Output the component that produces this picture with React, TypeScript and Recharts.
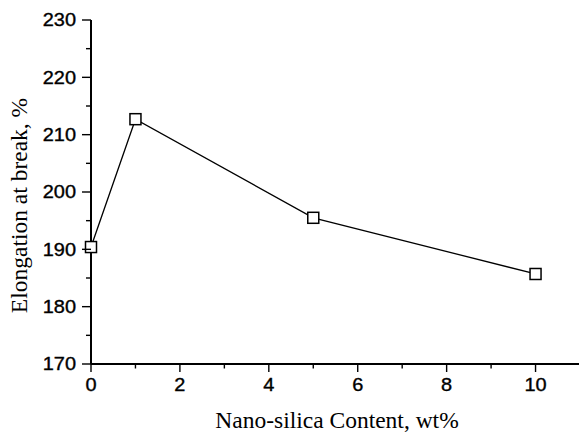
import React from 'react';
import { LineChart, Line, XAxis, YAxis } from 'recharts';

const contentWt = [0, 1, 5, 10];
const elongation = [190.4, 212.7, 195.5, 185.7];
const xTicks = [0, 1, 2, 3, 4, 5, 6, 7, 8, 9, 10];
const yTicks = [170, 175, 180, 185, 190, 195, 200, 205, 210, 215, 220, 225, 230];
const xTitle = 'Nano-silica Content, wt%';
const yTitle = 'Elongation at break, %';

const data = contentWt.map((c, i) => ({ c, v: elongation[i] }));

const SANS = '"Liberation Sans", Arial, Helvetica, sans-serif';
const SERIF = '"Liberation Serif", "Times New Roman", Times, serif';

const LeftTick = (props: any) => {
  const { x, y, payload } = props;
  const major = payload.value % 10 === 0;
  return (
    <g>
      <line x1={x - (major ? 9 : 5)} x2={x} y1={y} y2={y} stroke="#000" strokeWidth={1.4} />
      {major && (
        <text
          transform={`translate(${x - 15},${y + 6.3}) scale(1.14,1)`}
          textAnchor="end"
          fontFamily={SANS}
          fontSize={17.5}
          fill="#000"
          stroke="#000"
          strokeWidth={0.35}
        >
          {payload.value}
        </text>
      )}
    </g>
  );
};

const RightTick = (props: any) => {
  const { x, y, payload } = props;
  const major = payload.value % 10 === 0;
  return <line x1={x - (major ? 8 : 4)} x2={x} y1={y} y2={y} stroke="#000" strokeWidth={1.4} />;
};

const BottomTick = (props: any) => {
  const { x, y, payload } = props;
  const major = payload.value % 2 === 0;
  return (
    <g>
      <line x1={x} x2={x} y1={y} y2={y + (major ? 8 : 4.5)} stroke="#000" strokeWidth={1.4} />
      {major && (
        <text
          transform={`translate(${x},${y + 26.5}) scale(1.14,1)`}
          textAnchor="middle"
          fontFamily={SANS}
          fontSize={17.5}
          fill="#000"
          stroke="#000"
          strokeWidth={0.35}
        >
          {payload.value}
        </text>
      )}
    </g>
  );
};

const TopTick = (props: any) => {
  const { x, y, payload } = props;
  const major = payload.value % 2 === 0;
  return <line x1={x} x2={x} y1={y} y2={y + (major ? 7 : 4)} stroke="#000" strokeWidth={1.4} />;
};

const XTitle = (props: any) => {
  const vb = props.viewBox;
  return (
    <text
      x={vb.x + vb.width / 2 + 1.5}
      y={vb.y + vb.height - 5}
      textAnchor="middle"
      fontFamily={SERIF}
      fontSize={23.5}
      fill="#000"
    >
      {xTitle}
    </text>
  );
};

const YTitle = (props: any) => {
  const vb = props.viewBox;
  const cx = 26.7;
  const cy = vb.y + vb.height / 2 + 13.5;
  return (
    <text
      x={cx}
      y={cy}
      transform={`rotate(-90 ${cx} ${cy})`}
      textAnchor="middle"
      fontFamily={SERIF}
      fontSize={23.5}
      fill="#000"
    >
      {yTitle}
    </text>
  );
};

const SquareDot = (props: any) => {
  const { cx, cy, index } = props;
  return (
    <rect
      key={`d${index}`}
      x={cx - 5.5}
      y={cy - 5.5}
      width={11}
      height={11}
      fill="#fff"
      stroke="#000"
      strokeWidth={1.5}
    />
  );
};

export default function App() {
  return (
    <div
      style={{
        position: 'absolute',
        left: 0,
        top: 0,
        width: 579,
        height: 433,
        overflow: 'hidden',
        background: '#fff',
      }}
    >
      <LineChart
        width={582}
        height={433}
        data={data}
        margin={{ top: 20, right: 2, bottom: 0, left: 0 }}
      >
        <XAxis
          xAxisId="b"
          dataKey="c"
          type="number"
          domain={[0, 11]}
          ticks={xTicks}
          interval={0}
          height={69}
          tickSize={0}
          tickMargin={0}
          tickLine={false}
          tick={<BottomTick />}
          axisLine={{ stroke: '#000', strokeWidth: 2 }}
          label={XTitle}
        />
        <XAxis
          xAxisId="t"
          orientation="top"
          dataKey="c"
          type="number"
          domain={[0, 11]}
          ticks={xTicks}
          interval={0}
          height={0}
          tickSize={0}
          tickMargin={0}
          tickLine={false}
          tick={<TopTick />}
          axisLine={{ stroke: '#000', strokeWidth: 1.5 }}
        />
        <YAxis
          yAxisId="l"
          type="number"
          domain={[170, 230]}
          ticks={yTicks}
          interval={0}
          width={91}
          tickSize={0}
          tickMargin={0}
          tickLine={false}
          tick={<LeftTick />}
          axisLine={{ stroke: '#000', strokeWidth: 2 }}
          label={YTitle}
        />
        <YAxis
          yAxisId="r"
          orientation="right"
          type="number"
          domain={[170, 230]}
          ticks={yTicks}
          interval={0}
          width={0}
          tickSize={0}
          tickMargin={0}
          tickLine={false}
          tick={<RightTick />}
          axisLine={{ stroke: '#000', strokeWidth: 1.5 }}
        />
        <Line
          xAxisId="b"
          yAxisId="l"
          dataKey="v"
          stroke="#000"
          strokeWidth={1.3}
          dot={SquareDot}
          isAnimationActive={false}
        />
      </LineChart>
    </div>
  );
}
